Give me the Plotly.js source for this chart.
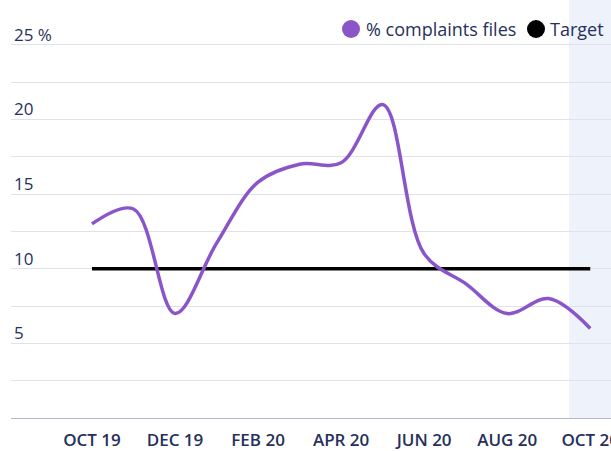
<!DOCTYPE html>
<html>
<head>
<meta charset="utf-8">
<script src="https://cdn.plot.ly/plotly-3.0.1.min.js"></script>
<style>html,body{margin:0;padding:0;background:#fff;}#chart{width:611px;height:451px;}</style>
</head>
<body>
<div id="chart"></div>
<script>
const months = ["OCT 19","NOV 19","DEC 19","JAN 20","FEB 20","MAR 20","APR 20","MAY 20","JUN 20","JUL 20","AUG 20","SEP 20","OCT 20"];
const complaints = [13.0, 14.0, 7.0, 11.7, 15.8, 17.0, 17.1, 21.0, 11.0, 9.0, 7.0, 8.0, 6.0];
const target = [10,10,10,10,10,10,10,10,10,10,10,10,10];
const xTickVals = ["OCT 19","DEC 19","FEB 20","APR 20","JUN 20","AUG 20","OCT 20"];
const yTickVals = [0,2.5,5,7.5,10,12.5,15,17.5,20,22.5,25];
const yTickText = ["","","5","","10","","15","","20","","25 %"];
const legendNames = ["% complaints files", "Target"];

const purple = "#8a55c8";
const navy = "#26305a";
const FONT = "'Open Sans', Lato, sans-serif";

const traces = [
  {x: months, y: target, type: "scatter", mode: "lines", name: legendNames[1], line: {color: "#000", width: 3.5}, showlegend: false, hoverinfo: "skip"},
  {x: months, y: complaints, type: "scatter", mode: "lines", name: legendNames[0], line: {color: purple, width: 3.5, shape: "spline", smoothing: 1}, showlegend: false}
];

// custom legend (paper coords; plot spans x 11..611px, y 0..418px)
const px = v => (v - 11) / 600;
const py = v => (418 - v) / 418;
const legendItems = [
  {cx: 351, tx: 364, color: purple, text: legendNames[0]},
  {cx: 536, tx: 548, color: "#000", text: legendNames[1]}
];
const legendShapes = legendItems.map(it => ({
  type: "circle", xref: "paper", yref: "paper", xsizemode: "pixel", ysizemode: "pixel",
  xanchor: px(it.cx), yanchor: py(29), x0: -9, x1: 9, y0: -9, y1: 9,
  fillcolor: it.color, line: {width: 0}
}));
const legendAnnots = legendItems.map(it => ({
  xref: "paper", yref: "paper", x: px(it.tx), y: py(29), xanchor: "left", yanchor: "middle",
  text: it.text, showarrow: false, font: {family: FONT, size: 18, color: navy}
}));

const layout = {
  width: 611, height: 451,
  margin: {l: 11, r: 0, t: 0, b: 33},
  paper_bgcolor: "#fff", plot_bgcolor: "#fff",
  font: {family: FONT, color: navy, size: 16},
  showlegend: false,
  xaxis: {
    type: "category", categoryorder: "array", categoryarray: months,
    range: [-1.95, 12.5], tickvals: xTickVals, ticktext: xTickVals,
    showgrid: false, zeroline: false, showline: true, linecolor: "#b4b9cc", linewidth: 1,
    ticks: "", ticklabelstandoff: 7, tickfont: {size: 17, color: navy, family: FONT, weight: 600},
    automargin: false, fixedrange: true
  },
  yaxis: {
    range: [0, 28], tickvals: yTickVals, ticktext: yTickText,
    showgrid: true, gridcolor: "#dfe2eb", gridwidth: 1, zeroline: false, showline: false,
    ticks: "", ticklabelposition: "inside", ticklabelshift: -10, ticklabelstandoff: 0,
    tickfont: {size: 17, color: navy, family: FONT}, automargin: false, fixedrange: true
  },
  shapes: [
    {type: "rect", xref: "x", yref: "paper", x0: 11.49, x1: 13, y0: 0, y1: 1, fillcolor: "#eef2fb", line: {width: 0}, layer: "below"}
  ].concat(legendShapes),
  annotations: legendAnnots
};

Plotly.newPlot("chart", traces, layout, {displayModeBar: false, staticPlot: true});
</script>
</body>
</html>
